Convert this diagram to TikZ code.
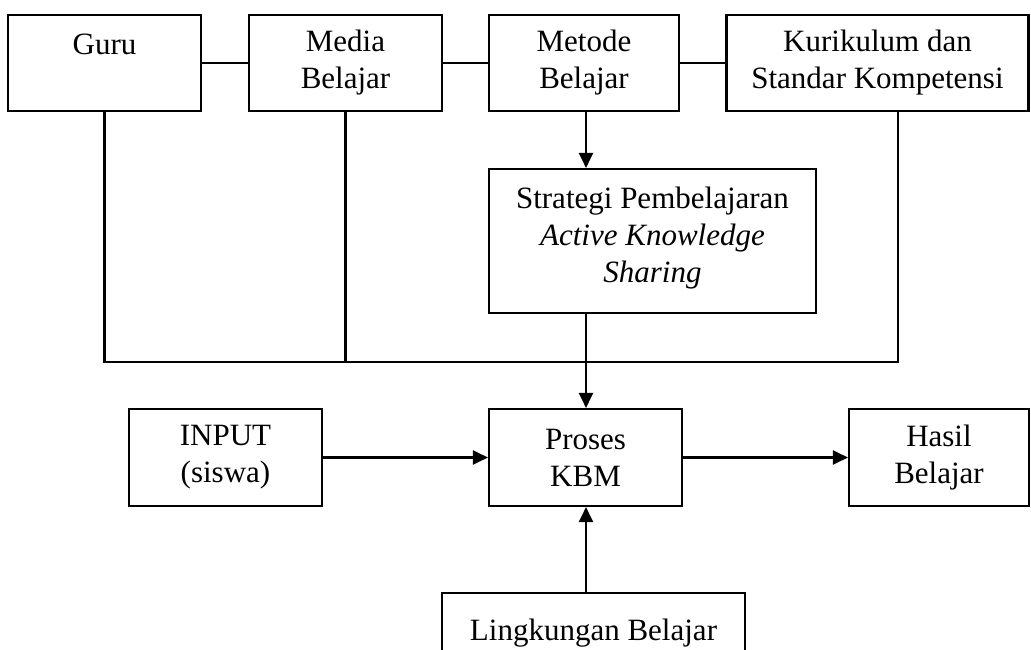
\documentclass[tikz,border=0pt]{standalone}
\usepackage{fontspec}
\setmainfont{Liberation Serif}
\usetikzlibrary{arrows.meta}
\begin{document}
\begin{tikzpicture}[x=1pt,y=-1pt,
  box/.style={draw=black,line width=2.1pt,rectangle,inner sep=0pt,align=center,
    font=\fontsize{31}{37}\selectfont},
  link/.style={draw=black,line width=2.1pt},
  arr/.style={link,-{Triangle[length=15pt,width=14pt]}}]
\useasboundingbox (0,0) rectangle (1031,650);
\clip (0,0) rectangle (1031,650);
\fill[white] (0,0) rectangle (1031,650);
% top row
\node[box,minimum width=193pt,minimum height=96pt] (guru) at (104.5,63) {Guru\\\mbox{}};
\node[box,minimum width=193pt,minimum height=96pt] (media) at (345.5,63) {Media\\Belajar};
\node[box,minimum width=190pt,minimum height=96pt] (metode) at (584,63) {Metode\\Belajar};
\node[box,minimum width=302pt,minimum height=96pt] (kur) at (877.5,63) {Kurikulum dan\\Standar Kompetensi};
% strategy
\node[box,minimum width=327pt,minimum height=144pt] (strat) at (652.5,241) {Strategi Pembelajaran\\\textit{Active Knowledge}\\\textit{Sharing}\\[-24pt]\mbox{}};
% middle row
\node[box,minimum width=193pt,minimum height=97pt] (input) at (225.5,457.5) {INPUT\\(siswa)};
\node[box,minimum width=193pt,minimum height=97pt] (proses) at (585.5,457.5) {Proses\\KBM};
\node[box,minimum width=180pt,minimum height=97pt] (hasil) at (939,457.5) {Hasil\\Belajar};
% bottom
\node[box,minimum width=303pt,minimum height=80pt] (ling) at (593.5,633) {Lingkungan Belajar};
% coordinates
\coordinate (ax) at (586,0);
\coordinate (bus) at (586,362);
\coordinate (kb) at (898,111);
% connectors top row
\draw[link] (guru.east) -- (media.west);
\draw[link] (media.east) -- (metode.west);
\draw[link] (metode.east) -- (kur.west);
\draw[arr] (metode.south -| ax) -- (strat.north -| ax);
% bus lines
\draw[link] (guru.south) |- (bus);
\draw[link] (media.south) -- (media.south |- bus);
\draw[link] (kb) |- (bus);
\draw[arr] (strat.south -| ax) -- (proses.north -| ax);
% middle row
\draw[arr] (input.east) -- (proses.west);
\draw[arr] (proses.east) -- (hasil.west);
\draw[arr] (ling.north -| ax) -- (proses.south -| ax);
\end{tikzpicture}
\end{document}
